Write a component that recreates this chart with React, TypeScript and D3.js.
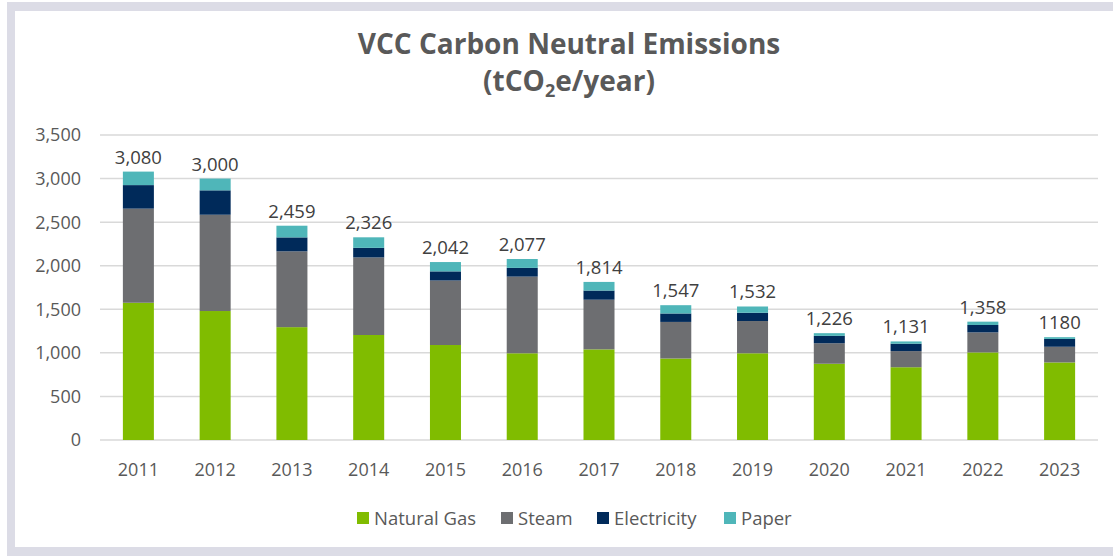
import React, { useEffect, useRef } from "react";
import * as d3 from "d3";

const years = ["2011", "2012", "2013", "2014", "2015", "2016", "2017", "2018", "2019", "2020", "2021", "2022", "2023"];
const naturalGas = [1575, 1480, 1295, 1205, 1090, 995, 1040, 935, 995, 875, 835, 1005, 890];
const steam = [1080, 1105, 870, 890, 740, 880, 570, 420, 370, 235, 185, 230, 180];
const electricity = [270, 280, 160, 110, 105, 100, 105, 97, 95, 85, 85, 85, 90];
const paper = [155, 135, 134, 121, 107, 102, 99, 95, 72, 31, 26, 38, 20];
const totalLabels = ["3,080", "3,000", "2,459", "2,326", "2,042", "2,077", "1,814", "1,547", "1,532", "1,226", "1,131", "1,358", "1180"];
const yTicks = [0, 500, 1000, 1500, 2000, 2500, 3000, 3500];

const seriesNames = ["Natural Gas", "Steam", "Electricity", "Paper"];
const seriesColors = ["#80bc00", "#6d6e71", "#002a5a", "#4fb6b9"];

const W = 1113;
const H = 556;
const FONT = "'Open Sans', 'Segoe UI', sans-serif";

const App = () => {
  const svgRef = useRef<SVGSVGElement>(null);

  useEffect(() => {
    const svg = d3.select(svgRef.current);
    svg.selectAll("*").remove();

    // frame
    svg.append("rect").attr("x", 7).attr("y", 2).attr("width", W - 7).attr("height", H - 2).attr("fill", "#dcdce6");
    svg.append("rect").attr("x", 15).attr("y", 11).attr("width", W - 15).attr("height", 536).attr("fill", "#fff");

    const x = d3.scaleBand().domain(years).range([100, 1098]).paddingInner(0.596).paddingOuter(0.298);
    const y = d3.scaleLinear().domain([0, 3500]).range([440, 135]);

    // title
    const title = svg.append("text").attr("text-anchor", "middle").attr("fill", "#595959")
      .attr("font-family", FONT).attr("font-weight", "bold").attr("font-size", 28);
    title.append("tspan").attr("x", 569).attr("y", 54).text("VCC Carbon Neutral Emissions");
    const t2 = svg.append("text").attr("text-anchor", "middle").attr("fill", "#595959")
      .attr("font-family", FONT).attr("font-weight", "bold").attr("font-size", 28)
      .attr("x", 569).attr("y", 91);
    t2.append("tspan").text("(tCO");
    t2.append("tspan").attr("font-size", 18).attr("dy", 6).text("2");
    t2.append("tspan").attr("dy", -6).text("e/year)");

    // gridlines + y labels
    svg.append("g").selectAll("line").data(yTicks).enter().append("line")
      .attr("x1", 100).attr("x2", 1098).attr("y1", (d) => y(d)).attr("y2", (d) => y(d))
      .attr("stroke", "#d9d9d9").attr("stroke-width", 1.5);
    svg.append("g").selectAll("text").data(yTicks).enter().append("text")
      .attr("x", 81).attr("y", (d) => y(d)).attr("dy", "0.36em").attr("text-anchor", "end")
      .attr("font-family", FONT).attr("font-size", 18).attr("fill", "#595959")
      .text((d) => d3.format(",")(d));

    // stacked bars
    const rows = years.map((yr, i) => ({
      year: yr,
      "Natural Gas": naturalGas[i],
      Steam: steam[i],
      Electricity: electricity[i],
      Paper: paper[i],
    }));
    const stacked = d3.stack<any>().keys(seriesNames)(rows);
    svg.append("g").selectAll("g").data(stacked).enter().append("g")
      .attr("fill", (d, i) => seriesColors[i])
      .selectAll("rect").data((d) => d).enter().append("rect")
      .attr("x", (d) => x(d.data.year)!)
      .attr("width", x.bandwidth())
      .attr("y", (d) => y(d[1]))
      .attr("height", (d) => y(d[0]) - y(d[1]));

    // total labels
    const top = stacked[stacked.length - 1];
    svg.append("g").selectAll("text").data(top).enter().append("text")
      .attr("x", (d) => x(d.data.year)! + x.bandwidth() / 2)
      .attr("y", (d) => y(d[1]) - 8)
      .attr("text-anchor", "middle").attr("font-family", FONT).attr("font-size", 18.5).attr("fill", "#404040")
      .text((d, i) => totalLabels[i]);

    // x labels
    svg.append("g").selectAll("text").data(years).enter().append("text")
      .attr("x", (d) => x(d)! + x.bandwidth() / 2).attr("y", 476)
      .attr("text-anchor", "middle").attr("font-family", FONT).attr("font-size", 18).attr("fill", "#595959")
      .text((d) => d);

    // legend
    const legendX = [357, 501, 597, 724];
    const lg = svg.append("g").selectAll("g").data(seriesNames).enter().append("g")
      .attr("transform", (d, i) => `translate(${legendX[i]},512)`);
    lg.append("rect").attr("width", 12).attr("height", 12).attr("fill", (d, i) => seriesColors[i]);
    lg.append("text").attr("x", 17).attr("y", 13).attr("font-family", FONT).attr("font-size", 18.5)
      .attr("fill", "#595959").text((d) => d);
  }, []);

  return (
    <div style={{ position: "absolute", left: 0, top: 0 }}>
      <svg ref={svgRef} width={W} height={H} style={{ display: "block" }}></svg>
    </div>
  );
};

export default App;
